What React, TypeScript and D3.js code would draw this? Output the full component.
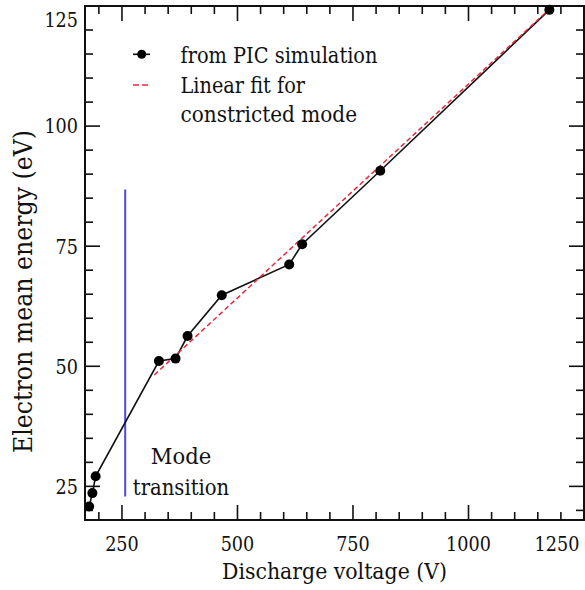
import React from "react";
import * as d3 from "d3";

// Data
const voltage = [179, 186, 193, 330, 366, 392, 466, 612, 640, 809, 1175];
const energy = [20.8, 23.6, 27.1, 51.1, 51.6, 56.3, 64.8, 71.2, 75.4, 90.7, 124.2];
const fitVoltage = [320, 1170];
const fitEnergy = [48.2, 123.9];
const transitionVoltage = 257;
const transitionEnergy = [22.9, 86.8];
const xMajorTicks = [250, 500, 750, 1000, 1250];
const yMajorTicks = [25, 50, 75, 100, 125];
const legendLabels = ["from PIC simulation", "Linear fit for", "constricted mode"];
const annotation = ["Mode", "transition"];
const xTitle = "Discharge voltage (V)";
const yTitle = "Electron mean energy (eV)";

const W = 585;
const H = 590;
const M = { left: 85, right: 584, top: 6, bottom: 520 };
const FONT = "'DejaVu Serif', serif";

export default function App() {
  const x = d3.scaleLinear().domain([170, 1250]).range([M.left, M.right]);
  const y = d3.scaleLinear().domain([18, 125]).range([M.bottom, M.top]);

  const xMinor = d3.range(200, 1250, 50).filter((v) => v % 250 !== 0);
  const yMinor = d3.range(20, 125, 5).filter((v) => v % 25 !== 0);

  const pts: [number, number][] = voltage.map((v, i) => [v, energy[i]]);
  const line = d3
    .line<[number, number]>()
    .x((d) => x(d[0]))
    .y((d) => y(d[1]));
  const fitPts: [number, number][] = fitVoltage.map((v, i) => [v, fitEnergy[i]]);

  const majL = 15;
  const minL = 8;
  const tickStyle = { stroke: "#111", strokeWidth: 1.6 };
  const ts = { fontFamily: FONT };
  const digitW = 11.2; // width per digit of tick labels in reference

  return (
    <svg
      width={W}
      height={H}
      style={{ position: "absolute", left: 0, top: 0, background: "#fff", fontFamily: FONT }}
    >
      <rect x={0} y={0} width={W} height={H} fill="#fff" />
      <defs>
        <clipPath id="plotclip">
          <rect x={M.left} y={M.top - 8} width={M.right - M.left + 2} height={M.bottom - M.top + 8} />
        </clipPath>
      </defs>

      {/* ticks: bottom & top */}
      {xMajorTicks.map((v) => (
        <g key={"xM" + v}>
          <line x1={x(v)} x2={x(v)} y1={M.bottom} y2={M.bottom - majL} {...tickStyle} />
          <line x1={x(v)} x2={x(v)} y1={M.top} y2={M.top + majL} {...tickStyle} />
        </g>
      ))}
      {xMinor.map((v) => (
        <g key={"xm" + v}>
          <line x1={x(v)} x2={x(v)} y1={M.bottom} y2={M.bottom - minL} {...tickStyle} />
          <line x1={x(v)} x2={x(v)} y1={M.top} y2={M.top + minL} {...tickStyle} />
        </g>
      ))}
      {/* ticks: left & right */}
      {yMajorTicks.map((v) => (
        <g key={"yM" + v}>
          <line y1={y(v)} y2={y(v)} x1={M.left} x2={M.left + majL} {...tickStyle} />
          <line y1={y(v)} y2={y(v)} x1={M.right} x2={M.right - majL} {...tickStyle} />
        </g>
      ))}
      {yMinor.map((v) => (
        <g key={"ym" + v}>
          <line y1={y(v)} y2={y(v)} x1={M.left} x2={M.left + minL} {...tickStyle} />
          <line y1={y(v)} y2={y(v)} x1={M.right} x2={M.right - minL} {...tickStyle} />
        </g>
      ))}

      {/* frame */}
      <rect
        x={M.left}
        y={M.top}
        width={M.right - M.left}
        height={M.bottom - M.top}
        fill="none"
        stroke="#111"
        strokeWidth={2}
      />

      {/* tick labels */}
      {xMajorTicks.map((v) => (
        <text
          key={"xl" + v}
          x={Math.min(x(v), W - 28)}
          y={551}
          textAnchor="middle"
          fontSize={20}
          fill="#111"
          style={ts}
          textLength={String(v).length * digitW}
          lengthAdjust="spacingAndGlyphs"
        >
          {v}
        </text>
      ))}
      {yMajorTicks.map((v) => (
        <text
          key={"yl" + v}
          x={78}
          y={Math.max(y(v), 20)}
          dy="0.36em"
          textAnchor="end"
          fontSize={20.5}
          fill="#111"
          style={ts}
          textLength={String(v).length * digitW}
          lengthAdjust="spacingAndGlyphs"
        >
          {v}
        </text>
      ))}

      {/* axis titles */}
      <text
        x={(M.left + M.right) / 2}
        y={579}
        textAnchor="middle"
        fontSize={22.5}
        fill="#111"
        style={ts}
        textLength={225}
        lengthAdjust="spacingAndGlyphs"
      >
        {xTitle}
      </text>
      <text
        transform={`translate(31.5, 291.5) rotate(-90)`}
        textAnchor="middle"
        fontSize={26}
        fill="#111"
        style={ts}
        textLength={323}
        lengthAdjust="spacingAndGlyphs"
      >
        {yTitle}
      </text>

      <g clipPath="url(#plotclip)">
        {/* mode transition line */}
        <line
          x1={x(transitionVoltage)}
          x2={x(transitionVoltage)}
          y1={y(transitionEnergy[0])}
          y2={y(transitionEnergy[1])}
          stroke="#4a4ae6"
          strokeWidth={2}
        />
        {/* data line */}
        <path d={line(pts) || ""} fill="none" stroke="#111" strokeWidth={1.6} />
        {/* linear fit */}
        <path
          d={line(fitPts) || ""}
          fill="none"
          stroke="#e8283a"
          strokeWidth={1.5}
          strokeDasharray="5,3"
        />
        {/* points */}
        {pts.map((d, i) => (
          <circle key={"p" + i} cx={x(d[0])} cy={y(d[1])} r={5} fill="#000" />
        ))}
      </g>

      {/* annotation */}
      {annotation.map((t, i) => (
        <text
          key={"an" + i}
          x={181}
          y={463.5 + i * 31.5}
          textAnchor="middle"
          fontSize={23}
          fill="#111"
          style={ts}
          textLength={[60.5, 96.5][i]}
          lengthAdjust="spacingAndGlyphs"
        >
          {t}
        </text>
      ))}

      {/* legend */}
      <line x1={133} x2={150} y1={54.3} y2={54.3} stroke="#111" strokeWidth={1.6} />
      <circle cx={141.7} cy={54.3} r={4.5} fill="#000" />
      <line x1={133} x2={150} y1={85} y2={85} stroke="#e8283a" strokeWidth={1.5} strokeDasharray="6,3" />
      {legendLabels.map((t, i) => (
        <text
          key={"lg" + i}
          x={180.5}
          y={63.3 + i * 29.2}
          fontSize={23}
          fill="#111"
          style={ts}
          textLength={[197, 124.5, 176.5][i]}
          lengthAdjust="spacingAndGlyphs"
        >
          {t}
        </text>
      ))}
    </svg>
  );
}
